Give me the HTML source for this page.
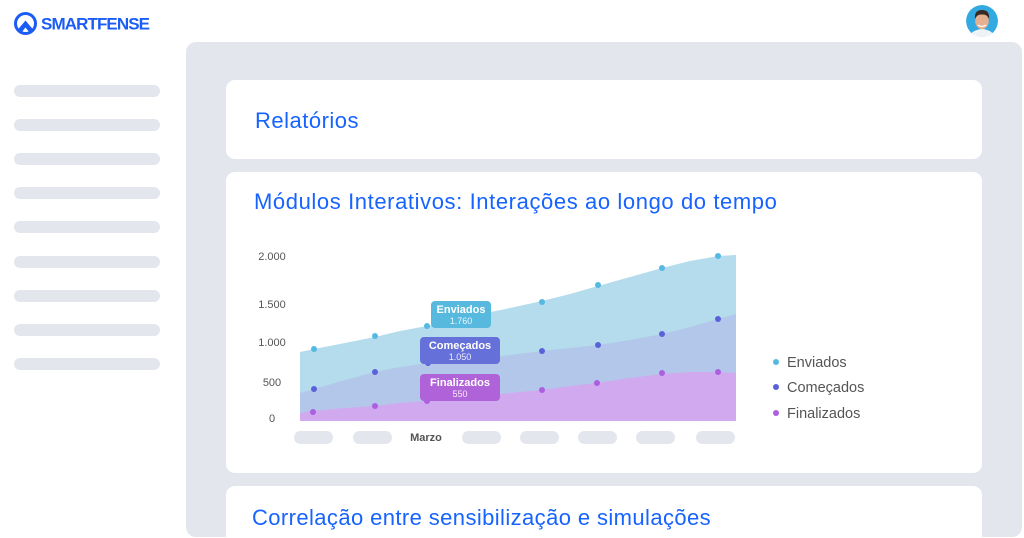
<!DOCTYPE html>
<html>
<head>
<meta charset="utf-8">
<style>
html,body{margin:0;padding:0;background:#fff;width:1024px;height:538px;overflow:hidden;}
svg{display:block;}
text{font-family:"Liberation Sans","DejaVu Sans",sans-serif;}
</style>
</head>
<body>
<svg width="1024" height="538" viewBox="0 0 1024 538" xmlns="http://www.w3.org/2000/svg">
  <defs>
    <clipPath id="av"><circle cx="982" cy="21" r="16"/></clipPath>
  </defs>
  <!-- logo -->
  <circle cx="25.5" cy="23.5" r="10" fill="none" stroke="#1a5cf5" stroke-width="3"/>
  <path d="M17.5,30 L25.5,20.5 L33.5,30 L29.5,32.5 L25.5,27.5 L21.5,32.5 Z" fill="#1a5cf5"/>
  <text x="41" y="29.5" font-size="17" font-weight="bold" fill="#1a5cf5" style="letter-spacing:-0.9px">SMARTFENSE</text>

  <!-- avatar -->
  <g clip-path="url(#av)">
    <circle cx="982" cy="21" r="16" fill="#33a9e2"/>
    <path d="M968,40 Q970,30 982,29 Q994,30 996,40 Z" fill="#eef3f6"/>
    <ellipse cx="982" cy="21" rx="6.8" ry="8.2" fill="#e4b190"/>
    <path d="M975,19 Q974,10 982,10 Q990,10 989,19 Q987,14 982,14.5 Q977,14 975,19 Z" fill="#3a2a22"/>
    <path d="M978,25 Q982,28 986,25" stroke="#fff" stroke-width="1.2" fill="none"/>
  </g>

  <!-- sidebar bars -->
  <g fill="#e3e6ed">
    <rect x="14" y="85" width="146" height="12" rx="6"/>
    <rect x="14" y="119" width="146" height="12" rx="6"/>
    <rect x="14" y="153" width="146" height="12" rx="6"/>
    <rect x="14" y="187" width="146" height="12" rx="6"/>
    <rect x="14" y="221" width="146" height="12" rx="6"/>
    <rect x="14" y="256" width="146" height="12" rx="6"/>
    <rect x="14" y="290" width="146" height="12" rx="6"/>
    <rect x="14" y="324" width="146" height="12" rx="6"/>
    <rect x="14" y="358" width="146" height="12" rx="6"/>
  </g>

  <!-- main panel -->
  <rect x="186" y="42" width="836" height="495" rx="10" fill="#e3e6ed"/>

  <!-- cards -->
  <rect x="226" y="80" width="756" height="79" rx="9" fill="#fff"/>
  <rect x="226" y="172" width="756" height="301" rx="9" fill="#fff"/>
  <rect x="226" y="486" width="756" height="70" rx="9" fill="#fff"/>

  <text x="255" y="128" font-size="22" fill="#1763ff" style="letter-spacing:0.5px">Relatórios</text>
  <text x="254" y="209" font-size="22" fill="#1763ff" style="letter-spacing:0.6px">Módulos Interativos: Interações ao longo do tempo</text>
  <text x="252" y="525" font-size="22" fill="#1763ff" style="letter-spacing:0.4px">Correlação entre sensibilização e simulações</text>

  <!-- y axis labels -->
  <g font-size="11" fill="#555" text-anchor="middle">
    <text x="272" y="260">2.000</text>
    <text x="272" y="308">1.500</text>
    <text x="272" y="346">1.000</text>
    <text x="272" y="386">500</text>
    <text x="272" y="422">0</text>
  </g>

  <!-- areas -->
  <polygon fill="#b4dcec" points="300,352 314,349 345,343 375,337 400,331 427,326 455,320 481,314 510,308 542,301 570,294 598,286 630,277 662,268 690,261 718,256 736,255 736,421 300,421"/>
  <polygon fill="#b3c7ea" points="300,393 314,389 345,380 375,372 400,367 428,363 455,360 481,358 510,355 542,351 570,348 598,345 630,340 662,334 690,327 718,319 736,314 736,421 300,421"/>
  <polygon fill="#d0a9ee" points="300,413 313,411 345,408 375,406 400,403 427,401 455,399 481,396 510,393 542,390 570,386 597,383 630,378 662,374 690,372 718,372 736,373 736,421 300,421"/>

  <!-- dots -->
  <g fill="#55b9e2">
    <circle cx="314" cy="349" r="3"/><circle cx="375" cy="336" r="3"/><circle cx="427" cy="326" r="3"/>
    <circle cx="542" cy="302" r="3"/><circle cx="598" cy="285" r="3"/><circle cx="662" cy="268" r="3"/><circle cx="718" cy="256" r="3"/>
  </g>
  <g fill="#5b62d9">
    <circle cx="314" cy="389" r="3"/><circle cx="375" cy="372" r="3"/><circle cx="428" cy="363" r="3"/>
    <circle cx="542" cy="351" r="3"/><circle cx="598" cy="345" r="3"/><circle cx="662" cy="334" r="3"/><circle cx="718" cy="319" r="3"/>
  </g>
  <g fill="#ad5fe0">
    <circle cx="313" cy="412" r="3"/><circle cx="375" cy="406" r="3"/><circle cx="427" cy="401" r="3"/>
    <circle cx="542" cy="390" r="3"/><circle cx="597" cy="383" r="3"/><circle cx="662" cy="373" r="3"/><circle cx="718" cy="372" r="3"/>
  </g>

  <!-- tooltips -->
  <rect x="431" y="301" width="60" height="27" rx="4" fill="#58b9df"/>
  <text x="461" y="313" font-size="11" font-weight="bold" fill="#fff" text-anchor="middle">Enviados</text>
  <text x="461" y="324" font-size="9" fill="#eaf6fc" text-anchor="middle">1.760</text>

  <rect x="420" y="337" width="80" height="27" rx="4" fill="#6670d9"/>
  <text x="460" y="349" font-size="11" font-weight="bold" fill="#fff" text-anchor="middle">Começados</text>
  <text x="460" y="360" font-size="9" fill="#eceefc" text-anchor="middle">1.050</text>

  <rect x="420" y="374" width="80" height="27" rx="4" fill="#b062d8"/>
  <text x="460" y="386" font-size="11" font-weight="bold" fill="#fff" text-anchor="middle">Finalizados</text>
  <text x="460" y="397" font-size="9" fill="#f6ecfc" text-anchor="middle">550</text>

  <!-- x axis pills -->
  <g fill="#e3e6ed">
    <rect x="294" y="431" width="39" height="13" rx="6.5"/>
    <rect x="353" y="431" width="39" height="13" rx="6.5"/>
    <rect x="462" y="431" width="39" height="13" rx="6.5"/>
    <rect x="520" y="431" width="39" height="13" rx="6.5"/>
    <rect x="578" y="431" width="39" height="13" rx="6.5"/>
    <rect x="636" y="431" width="39" height="13" rx="6.5"/>
    <rect x="696" y="431" width="39" height="13" rx="6.5"/>
  </g>
  <text x="426" y="441" font-size="11" font-weight="bold" fill="#555" text-anchor="middle">Marzo</text>

  <!-- legend -->
  <circle cx="776" cy="362" r="3" fill="#55b9e2"/>
  <circle cx="776" cy="387" r="3" fill="#5b62d9"/>
  <circle cx="776" cy="413" r="3" fill="#ad5fe0"/>
  <g font-size="14.5" fill="#555">
    <text x="787" y="367">Enviados</text>
    <text x="787" y="392">Começados</text>
    <text x="787" y="418">Finalizados</text>
  </g>
</svg>
</body>
</html>
